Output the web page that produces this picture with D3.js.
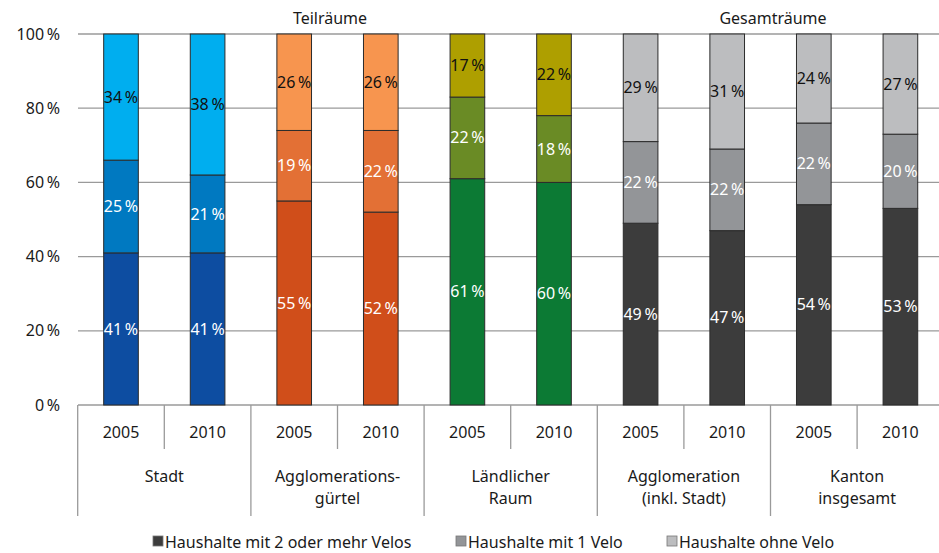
<!DOCTYPE html>
<html><head><meta charset="utf-8">
<script src="https://cdn.jsdelivr.net/npm/d3@7/dist/d3.min.js"></script>
<style>
body{margin:0;background:#fff;}
svg text{font-family:"Noto Sans","Open Sans",sans-serif;}
</style></head>
<body><svg id="c" width="939" height="553"></svg>
<script>
const groups = ["Stadt","Agglomerations-\ngürtel","Ländlicher\nRaum","Agglomeration\n(inkl. Stadt)","Kanton\ninsgesamt"];
const years = ["2005","2010"];
const superGroups = ["Teilräume","Gesamträume"];
const seriesNames = ["Haushalte mit 2 oder mehr Velos","Haushalte mit 1 Velo","Haushalte ohne Velo"];
// values per bar [2+ Velos, 1 Velo, ohne Velo]
const twoPlus = [41,41,55,52,61,60,49,47,54,53];
const one     = [25,21,19,22,22,18,22,22,22,20];
const none    = [34,38,26,26,17,22,29,31,24,27];
const yTicks = [0,20,40,60,80,100];
const palettes = [
  ["#0d4da1","#0079c1","#00aeef"],
  ["#d04e1a","#e37035","#f7954f"],
  ["#0c7a34","#6a8b25","#ae9f00"],
  ["#3c3c3c","#939598","#bcbdbf"],
  ["#3c3c3c","#939598","#bcbdbf"]
];
const legendColors = ["#3c3c3c","#939598","#bcbdbf"];
const FS = 16;

const svg = d3.select("#c");
const bars = [];
groups.forEach((g,gi)=>years.forEach((y,yi)=>bars.push({g:gi,year:y,key:gi+"-"+y})));
const x = d3.scaleBand().domain(bars.map(b=>b.key)).range([77.7,943.7]).paddingInner(0.6).paddingOuter(0.3);
const y = d3.scaleLinear().domain([0,100]).range([405,34]);
const step = x.step();
const left = 77.7;

// gridlines
svg.append("g").selectAll("line").data(yTicks).join("line")
  .attr("x1",78).attr("x2",939).attr("y1",d=>y(d)).attr("y2",d=>y(d))
  .attr("stroke","#9a9a9a").attr("stroke-width",1.3);
// y labels
svg.append("g").selectAll("text").data(yTicks).join("text")
  .attr("x",60).attr("y",d=>y(d)).attr("dy","0.35em").attr("text-anchor","end")
  .attr("font-size",FS).attr("fill","#1a1a1a").text(d=>d+"\u2009%");

// stacked bars
const vals = [twoPlus, one, none];
bars.forEach((b,i)=>{
  let base = 0;
  vals.forEach((arr,s)=>{
    const v = arr[i];
    const x0 = x(b.key), w = x.bandwidth();
    svg.append("rect").attr("x",x0).attr("y",y(base+v)).attr("width",w).attr("height",y(base)-y(base+v))
      .attr("fill",palettes[b.g][s]).attr("stroke","#2b2b2b").attr("stroke-width",1);
    svg.append("text").attr("x",x0+w/2).attr("y",y(base+v/2)).attr("dy","0.35em")
      .attr("text-anchor","middle").attr("font-size",FS)
      .attr("fill", s===2 ? "#111" : "#fff").text(v+"\u2009%");
    base += v;
  });
});

// x axis separators
const axisG = svg.append("g").attr("stroke","#9a9a9a").attr("stroke-width",1.3);
bars.forEach((b,i)=>{
  const xs = left + i*step;
  const isGroup = i%2===0;
  axisG.append("line").attr("x1",xs).attr("x2",xs).attr("y1",405).attr("y2",isGroup?516:449);
});
// year labels
svg.append("g").selectAll("text").data(bars).join("text")
  .attr("x",d=>x(d.key)+x.bandwidth()/2).attr("y",432).attr("dy","0.35em")
  .attr("text-anchor","middle").attr("font-size",FS).attr("fill","#1a1a1a").text(d=>d.year);
// group labels
groups.forEach((g,gi)=>{
  const cx = left + (gi*2+1)*step;
  const t = svg.append("text").attr("x",cx).attr("y",476)
    .attr("text-anchor","middle").attr("font-size",FS).attr("fill","#1a1a1a");
  g.split("\n").forEach((line,li)=>{
    t.append("tspan").attr("x",cx).attr("dy",li===0?"0.35em":"22px").text(line);
  });
});
// super group titles
svg.append("text").attr("x",330).attr("y",18).attr("dy","0.35em").attr("text-anchor","middle")
  .attr("font-size",FS).attr("fill","#1a1a1a").text(superGroups[0]);
svg.append("text").attr("x",773).attr("y",18).attr("dy","0.35em").attr("text-anchor","middle")
  .attr("font-size",FS).attr("fill","#1a1a1a").text(superGroups[1]);

// legend
const legX = [153,456,667];
seriesNames.forEach((n,i)=>{
  svg.append("rect").attr("x",legX[i]).attr("y",536).attr("width",10).attr("height",10)
    .attr("fill",legendColors[i]).attr("stroke","#777").attr("stroke-width",0.8);
  svg.append("text").attr("x",legX[i]+12).attr("y",542).attr("dy","0.35em")
    .attr("font-size",FS).attr("fill","#1a1a1a").text(n);
});
</script></body></html>
